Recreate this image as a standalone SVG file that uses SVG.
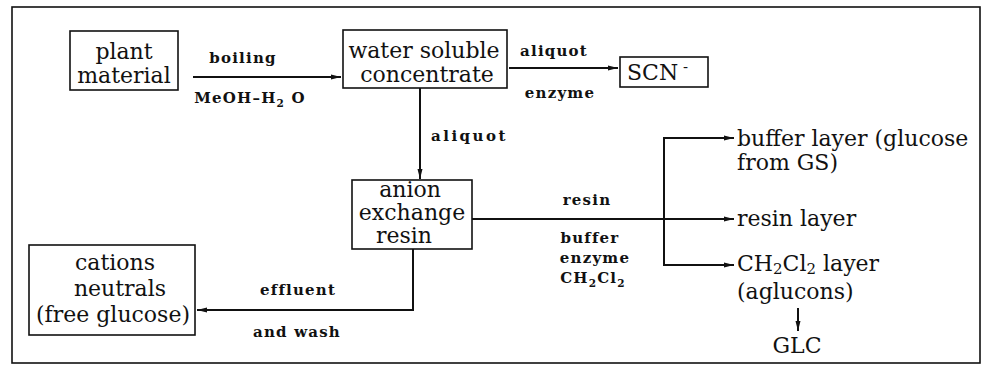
<svg xmlns="http://www.w3.org/2000/svg" width="983" height="365" viewBox="0 0 983 365">
<style>
.box{fill:#fff;stroke:#111;stroke-width:1.6}
.n{font-family:"DejaVu Serif",serif;font-size:22px;fill:#111;text-anchor:middle}
.l{font-family:"DejaVu Serif",serif;font-size:15px;font-weight:bold;fill:#111;letter-spacing:1.2px;text-anchor:middle}
.t{font-family:"DejaVu Serif",serif;font-size:22px;fill:#111}
.c{fill:none;stroke:#111;stroke-width:2}
.sub{font-size:0.7em}
</style>
<defs>
<marker id="ah" viewBox="0 0 10 6" refX="10" refY="3" markerWidth="10" markerHeight="6" markerUnits="userSpaceOnUse" orient="auto">
<path d="M0,0.5 L10,3 L0,5.5 Z" fill="#111"/>
</marker>
</defs>
<rect x="12" y="7" width="968" height="356" fill="#fff" stroke="#111" stroke-width="1.6"/>
<g id="connectors">
<line class="c" x1="193" y1="77" x2="341" y2="77" marker-end="url(#ah)"/>
<line class="c" x1="509" y1="68" x2="618" y2="68" marker-end="url(#ah)"/>
<line class="c" x1="420" y1="88" x2="420" y2="179" marker-end="url(#ah)"/>
<line class="c" x1="472" y1="219" x2="734" y2="219" marker-end="url(#ah)"/>
<polyline class="c" points="734,138 664,138 664,265 734,265"/>
<line class="c" x1="664" y1="138" x2="734" y2="138" marker-end="url(#ah)"/>
<line class="c" x1="664" y1="265" x2="734" y2="265" marker-end="url(#ah)"/>
<polyline class="c" points="413,249 413,310 197,310" marker-end="url(#ah)"/>
<line class="c" x1="798" y1="308" x2="798" y2="331" stroke-width="1.5" marker-end="url(#ah)"/>
</g>
<g id="labels">
<text class="l" x="243" y="63">boiling</text>
<text class="l" x="250" y="103">MeOH–H<tspan class="sub" dy="4">2</tspan><tspan dy="-4"> O</tspan></text>
<text class="l" x="554" y="56">aliquot</text>
<text class="l" x="560" y="98">enzyme</text>
<text class="l" x="431" y="141" style="text-anchor:start;letter-spacing:2.5px">aliquot</text>
<text class="l" x="587" y="205">resin</text>
<text class="l" x="590" y="243">buffer</text>
<text class="l" x="595" y="263">enzyme</text>
<text class="l" x="593" y="283">CH<tspan class="sub" dy="4">2</tspan><tspan dy="-4">Cl</tspan><tspan class="sub" dy="4">2</tspan></text>
<text class="l" x="298" y="295">effluent</text>
<text class="l" x="297" y="337">and wash</text>
</g>
<g id="plant">
<rect class="box" x="70" y="31" width="108" height="59"/>
<text class="n" x="124" y="59">plant</text>
<text class="n" x="124" y="83">material</text>
</g>
<g id="water">
<rect class="box" x="343" y="30" width="164" height="58"/>
<text class="n" x="424" y="58">water soluble</text>
<text class="n" x="427" y="82">concentrate</text>
</g>
<g id="scn">
<rect class="box" x="620" y="57" width="88" height="30"/>
<text class="t" x="627" y="80">SCN<tspan font-size="15" dy="-8"> -</tspan></text>
</g>
<g id="anion">
<rect class="box" x="352" y="180" width="120" height="69"/>
<text class="n" x="410" y="197">anion</text>
<text class="n" x="412" y="220">exchange</text>
<text class="n" x="404" y="243">resin</text>
</g>
<g id="cations">
<rect class="box" x="29" y="245" width="166" height="90"/>
<text class="n" x="115" y="270">cations</text>
<text class="n" x="120" y="296">neutrals</text>
<text class="n" x="113" y="322">(free glucose)</text>
</g>
<g id="buffer">
<text class="t" x="737" y="146">buffer layer (glucose</text>
<text class="t" x="737" y="170">from GS)</text>
</g>
<g id="resinlayer">
<text class="t" x="737" y="226">resin layer</text>
</g>
<g id="ch2cl2">
<text class="t" x="737" y="271">CH<tspan font-size="15" dy="3">2</tspan><tspan dy="-3">Cl</tspan><tspan font-size="15" dy="3">2</tspan><tspan dy="-3" dx="7">layer</tspan></text>
<text class="t" x="737" y="299">(aglucons)</text>
</g>
<g id="glc">
<text class="n" x="797" y="353">GLC</text>
</g>
</svg>
